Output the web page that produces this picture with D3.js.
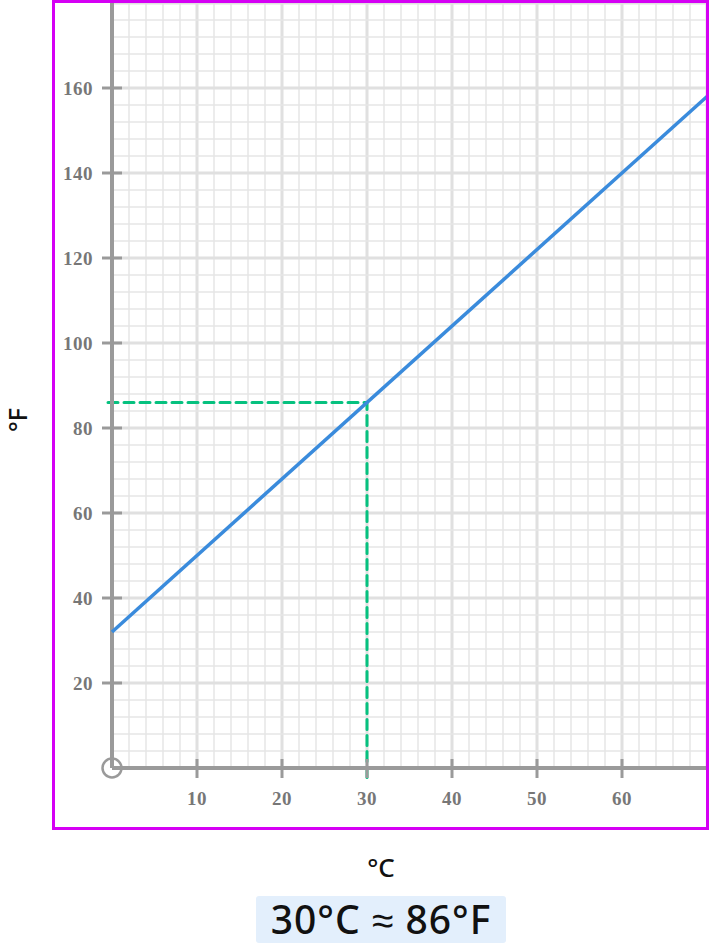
<!DOCTYPE html>
<html>
<head>
<meta charset="utf-8">
<script src="https://cdn.jsdelivr.net/npm/d3@7"></script>
<style>
  html, body { margin: 0; padding: 0; background: #fff; }
</style>
</head>
<body>
<svg id="chart" width="710" height="946"></svg>
<script>
// celsius -> fahrenheit conversion line
const lineCelsius = [0, 70];
const lineFahrenheit = [32, 158];
const xTicks = [10, 20, 30, 40, 50, 60];
const yTicks = [20, 40, 60, 80, 100, 120, 140, 160];
const readC = 30;
const readF = 86;
const answerText = "30°C ≈ 86°F";

const svg = d3.select("#chart");

const x = d3.scaleLinear().domain([0, 70]).range([112, 707]);
const y = d3.scaleLinear().domain([0, 180]).range([768, 3]);

// minor grid, every 2°C and 4°F, heavier every 10 / 20
const grid = svg.append("g");
grid.selectAll(".vminor")
    .data(d3.range(2, 71, 2))
    .join("line")
    .attr("x1", d => x(d)).attr("x2", d => x(d))
    .attr("y1", y(180)).attr("y2", y(0))
    .attr("stroke", d => d % 10 === 0 ? "#e0e0e0" : "#e6e6e6")
    .attr("stroke-width", d => d % 10 === 0 ? 3 : 1.5);
grid.selectAll(".hminor")
    .data(d3.range(4, 181, 4))
    .join("line")
    .attr("x1", x(0)).attr("x2", x(70))
    .attr("y1", d => y(d)).attr("y2", d => y(d))
    .attr("stroke", d => d % 20 === 0 ? "#e0e0e0" : "#e6e6e6")
    .attr("stroke-width", d => d % 20 === 0 ? 3 : 1.5);

// dashed reading lines
svg.append("path")
    .attr("d", `M${x(0) - 4},${y(readF)}H${x(readC)}V${y(0) + 11}`)
    .attr("fill", "none")
    .attr("stroke", "#06c17f")
    .attr("stroke-width", 3)
    .attr("stroke-dasharray", "10,6")
    .attr("stroke-linecap", "round");

// axes
const axes = svg.append("g").attr("stroke", "#9a9a9a");
axes.append("line")
    .attr("x1", x(0)).attr("x2", x(70))
    .attr("y1", y(0)).attr("y2", y(0))
    .attr("stroke-width", 4);
axes.append("line")
    .attr("x1", x(0)).attr("x2", x(0))
    .attr("y1", y(180)).attr("y2", y(0))
    .attr("stroke-width", 4);
axes.selectAll(".xt")
    .data(xTicks)
    .join("line")
    .attr("x1", d => x(d)).attr("x2", d => x(d))
    .attr("y1", y(0) - 9).attr("y2", y(0) + 10)
    .attr("stroke-width", 3);
axes.selectAll(".yt")
    .data(yTicks)
    .join("line")
    .attr("x1", x(0) - 10).attr("x2", x(0) + 10)
    .attr("y1", d => y(d)).attr("y2", d => y(d))
    .attr("stroke-width", 3);
axes.append("circle")
    .attr("cx", x(0)).attr("cy", y(0))
    .attr("r", 9.5)
    .attr("fill", "none")
    .attr("stroke-width", 2.5);

// conversion line
svg.append("line")
    .attr("x1", x(lineCelsius[0])).attr("y1", y(lineFahrenheit[0]))
    .attr("x2", x(lineCelsius[1])).attr("y2", y(lineFahrenheit[1]))
    .attr("stroke", "#3a8bdc")
    .attr("stroke-width", 3.5);

// tick labels
const labelFont = "'Liberation Serif', 'Times New Roman', serif";
svg.selectAll(".xl")
    .data(xTicks)
    .join("text")
    .attr("x", d => x(d))
    .attr("y", y(0) + 37)
    .attr("text-anchor", "middle")
    .attr("font-family", labelFont)
    .attr("font-weight", "bold")
    .attr("font-size", 19)
    .attr("letter-spacing", 0.5)
    .attr("fill", "#777")
    .text(d => d);
svg.selectAll(".yl")
    .data(yTicks)
    .join("text")
    .attr("x", x(0) - 19)
    .attr("y", d => y(d))
    .attr("dy", "0.35em")
    .attr("text-anchor", "end")
    .attr("font-family", labelFont)
    .attr("font-weight", "bold")
    .attr("font-size", 19)
    .attr("letter-spacing", 0.5)
    .attr("fill", "#777")
    .text(d => d);

// frame
svg.append("rect")
    .attr("x", 53.5).attr("y", 1.5)
    .attr("width", 654).attr("height", 827)
    .attr("fill", "none")
    .attr("stroke", "#d500f4")
    .attr("stroke-width", 3);

// axis titles
svg.append("text")
    .attr("transform", "translate(27,420) rotate(-90)")
    .attr("text-anchor", "middle")
    .attr("font-family", "'Noto Sans', sans-serif")
    .attr("font-weight", 500)
    .attr("font-size", 25)
    .attr("fill", "#111")
    .text("°F");
svg.append("text")
    .attr("x", 381).attr("y", 877)
    .attr("text-anchor", "middle")
    .attr("font-family", "'Noto Sans', sans-serif")
    .attr("font-weight", 500)
    .attr("font-size", 26)
    .attr("fill", "#111")
    .text("°C");

// answer box
svg.append("rect")
    .attr("x", 256).attr("y", 896)
    .attr("width", 250).attr("height", 47)
    .attr("rx", 3)
    .attr("fill", "#e3effc");
svg.append("text")
    .attr("x", 381).attr("y", 934)
    .attr("text-anchor", "middle")
    .attr("font-family", "'Noto Sans', sans-serif")
    .attr("font-weight", 500)
    .attr("font-size", 39)
    .attr("letter-spacing", 1)
    .attr("fill", "#111")
    .text(answerText);
</script>
</body>
</html>
